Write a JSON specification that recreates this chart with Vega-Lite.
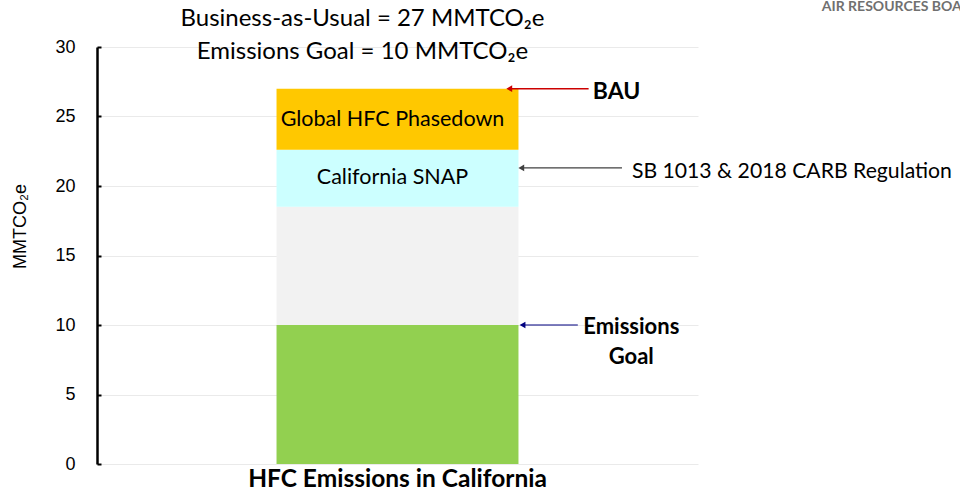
{
  "$schema": "https://vega.github.io/schema/vega-lite/v6.json",
  "width": 601,
  "height": 417,
  "autosize": {"type": "none"},
  "padding": {"left": 97, "top": 47, "right": 262, "bottom": 32},
  "background": "white",
  "config": {"view": {"stroke": null}, "font": "Lato"},
  "title": {
    "text": ["Business-as-Usual = 27 MMTCO₂e", "Emissions Goal = 10 MMTCO₂e"],
    "font": "Lato",
    "fontSize": 24,
    "fontWeight": "normal",
    "color": "#000000",
    "anchor": "middle",
    "dx": -35,
    "dy": 56,
    "lineHeight": 33,
    "offset": -8
  },
  "layer": [
    {
      "data": {"values": [
        {"category": "HFC Emissions in California", "segment": "Emissions Goal", "y0": 0, "y1": 10},
        {"category": "HFC Emissions in California", "segment": "Other Measures", "y0": 10, "y1": 18.5},
        {"category": "HFC Emissions in California", "segment": "California SNAP", "y0": 18.5, "y1": 22.6},
        {"category": "HFC Emissions in California", "segment": "Global HFC Phasedown", "y0": 22.6, "y1": 27}
      ]},
      "encoding": {
        "x": {
          "field": "category", "type": "nominal",
          "scale": {"paddingInner": 0, "paddingOuter": 0.742},
          "axis": {"title": null, "labelAngle": 0, "domain": false, "ticks": false, "grid": false,
                   "labelFont": "Lato", "labelFontSize": 24.5, "labelFontWeight": "bold", "labelColor": "#000000",
                   "labelPadding": 3, "labelLimit": 0}
        }
      },
      "layer": [
        {
          "mark": {"type": "bar"},
          "encoding": {
            "y": {
              "field": "y0", "type": "quantitative", "title": "MMTCO₂e",
              "scale": {"domain": [0, 30], "nice": false},
              "axis": {"values": [0, 5, 10, 15, 20, 25, 30], "grid": true, "gridColor": "#EAEAEA", "gridWidth": 1,
                       "domainColor": "#000000", "domainWidth": 2.5, "tickColor": "#000000", "tickWidth": 2, "tickSize": -4,
                       "labelFont": "Liberation Sans", "labelFontSize": 18, "labelColor": "#000000", "labelPadding": 26,
                       "titleFont": "Liberation Sans", "titleFontSize": 18, "titleFontWeight": "normal", "titleColor": "#000000",
                       "titlePadding": 25, "titleY": 179, "titleAlign": "center"}
            },
            "y2": {"field": "y1"},
            "color": {
              "field": "segment", "type": "nominal", "legend": null,
              "scale": {"domain": ["Emissions Goal", "Other Measures", "California SNAP", "Global HFC Phasedown"],
                        "range": ["#92D050", "#F2F2F2", "#CCFFFF", "#FFC800"]}
            }
          }
        },
        {
          "data": {"values": [
            {"category": "HFC Emissions in California", "label": "Global HFC Phasedown", "y": 24.75},
            {"category": "HFC Emissions in California", "label": "California SNAP", "y": 20.6}
          ]},
          "mark": {"type": "text", "font": "Lato", "fontSize": 21.5, "color": "#000000", "dx": -5, "baseline": "middle"},
          "encoding": {
            "y": {"field": "y", "type": "quantitative", "title": "MMTCO₂e"},
            "text": {"field": "label"}
          }
        }
      ]
    },
    {
      "data": {"values": [
        {"arrow": "BAU", "x1": 81.8, "x2": 68.6, "y": 27},
        {"arrow": "SB 1013", "x1": 87.35, "x2": 70.6, "y": 21.3},
        {"arrow": "Emissions Goal", "x1": 80.0, "x2": 70.8, "y": 10}
      ]},
      "layer": [
        {
          "mark": {"type": "rule"},
          "encoding": {
            "x": {"field": "x1", "type": "quantitative", "scale": {"domain": [0, 100], "nice": false, "zero": false}, "axis": null},
            "x2": {"field": "x2"},
            "y": {"field": "y", "type": "quantitative", "title": "MMTCO₂e"},
            "color": {"field": "arrow", "type": "nominal", "legend": null,
                      "scale": {"domain": ["BAU", "SB 1013", "Emissions Goal"], "range": ["#CC0000", "#404040", "#000080"]}},
            "strokeWidth": {"field": "arrow", "type": "ordinal", "legend": null,
                      "scale": {"domain": ["BAU", "SB 1013", "Emissions Goal"], "range": [1.5, 1.2, 2.2]}}
          }
        },
        {
          "mark": {"type": "point", "shape": "triangle-left", "filled": true, "size": 45, "opacity": 1},
          "encoding": {
            "x": {"field": "x2", "type": "quantitative", "scale": {"domain": [0, 100], "nice": false, "zero": false}, "axis": null},
            "y": {"field": "y", "type": "quantitative", "title": "MMTCO₂e"},
            "color": {"field": "arrow", "type": "nominal", "legend": null,
                      "scale": {"domain": ["BAU", "SB 1013", "Emissions Goal"], "range": ["#CC0000", "#404040", "#000080"]}}
          }
        },
        {
          "data": {"values": [
            {"note": "BAU", "x": 82.5, "y": 27}
          ]},
          "mark": {"type": "text", "font": "Lato", "fontSize": 23, "fontWeight": "bold", "align": "left", "baseline": "middle", "dy": 3, "color": "#000000"},
          "encoding": {
            "x": {"field": "x", "type": "quantitative", "scale": {"domain": [0, 100], "nice": false, "zero": false}, "axis": null},
            "y": {"field": "y", "type": "quantitative", "title": "MMTCO₂e"},
            "text": {"field": "note"}
          }
        },
        {
          "data": {"values": [
            {"note": "SB 1013 & 2018 CARB Regulation", "x": 89.0, "y": 21.3}
          ]},
          "mark": {"type": "text", "font": "Lato", "fontSize": 21.2, "align": "left", "baseline": "middle", "dy": 4, "color": "#000000"},
          "encoding": {
            "x": {"field": "x", "type": "quantitative", "scale": {"domain": [0, 100], "nice": false, "zero": false}, "axis": null},
            "y": {"field": "y", "type": "quantitative", "title": "MMTCO₂e"},
            "text": {"field": "note"}
          }
        },
        {
          "data": {"values": [
            {"note": "Emissions", "x": 88.9, "y": 10},
            {"note": "Goal", "x": 88.9, "y": 7.85}
          ]},
          "mark": {"type": "text", "font": "Lato", "fontSize": 22, "fontWeight": "bold", "align": "center", "baseline": "middle", "dy": 2, "color": "#000000"},
          "encoding": {
            "x": {"field": "x", "type": "quantitative", "scale": {"domain": [0, 100], "nice": false, "zero": false}, "axis": null},
            "y": {"field": "y", "type": "quantitative", "title": "MMTCO₂e"},
            "text": {"field": "note"}
          }
        },
        {
          "data": {"values": [
            {"note": "AIR RESOURCES BOARD", "x": 120.6, "y": 32.85}
          ]},
          "mark": {"type": "text", "font": "Lato", "fontSize": 14, "fontWeight": "bold", "letterSpacing": 3.2, "align": "left", "baseline": "middle", "color": "#707070"},
          "encoding": {
            "x": {"field": "x", "type": "quantitative", "scale": {"domain": [0, 100], "nice": false, "zero": false}, "axis": null},
            "y": {"field": "y", "type": "quantitative", "title": "MMTCO₂e"},
            "text": {"field": "note"}
          }
        }
      ]
    }
  ],
  "resolve": {"scale": {"x": "independent", "color": "independent"}}
}
